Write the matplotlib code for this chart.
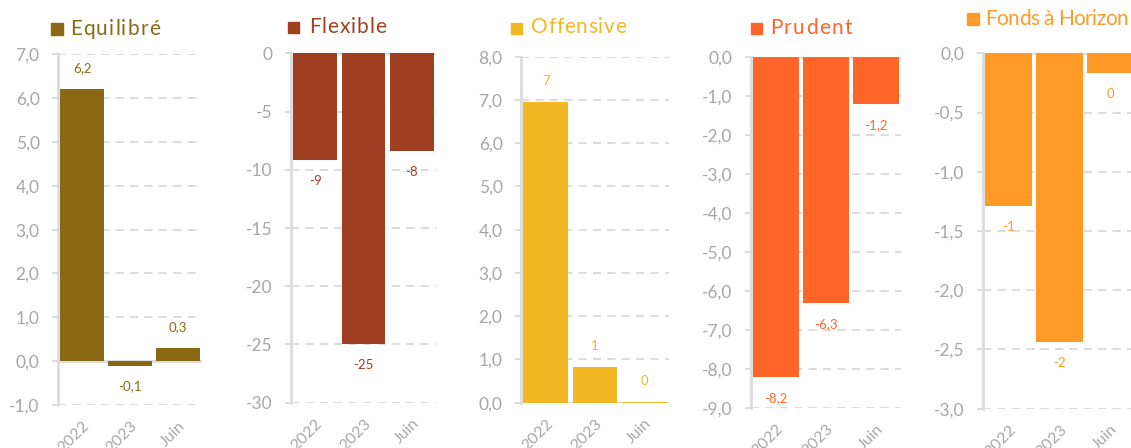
import matplotlib
matplotlib.use("Agg")
import matplotlib.pyplot as plt
from matplotlib.patches import Rectangle
from matplotlib.ticker import FixedLocator, FuncFormatter
from matplotlib.font_manager import findfont, FontProperties
from matplotlib.ft2font import FT2Font
import numpy as np

# Data
categories = ["2022", "2023", "Juin"]

equilibre = [6.2, -0.1, 0.3]
flexible = [-9.2, -25.0, -8.4]
offensive = [6.96, 0.82, 0.02]
prudent = [-8.2, -6.3, -1.2]
fonds_horizon = [-1.29, -2.44, -0.17]

names = ["Equilibré", "Flexible", "Offensive", "Prudent", "Fonds à Horizon"]
series = [equilibre, flexible, offensive, prudent, fonds_horizon]
colors = ["#8B6914", "#9E3F22", "#F2B722", "#FF6428", "#FF9A26"]
label_decimals = [1, 0, 0, 1, 0]
yticks = [
    np.arange(-1, 7.01, 1),
    np.arange(-30, 0.01, 5),
    np.arange(0, 8.01, 1),
    np.arange(-9, 0.01, 1),
    np.arange(-3, 0.01, 0.5),
]
tick_decimals = [1, 0, 1, 1, 1]

# Layout in pixels: (left, right, top, bottom)
W, H = 1131, 448
DPI = 100
boxes = [
    (58, 202, 54.3, 405.0),
    (291, 436, 53.3, 402.7),
    (521, 669, 56.7, 402.7),
    (751, 901, 57.3, 408.3),
    (983, 1136, 53.3, 408.7),
]
# Title: square left, square top, square bottom, text left, text right, baseline
titles = [
    (51, 23, 35, 70, 160, 35),
    (288, 22, 33, 309, 386, 33),
    (511, 23, 34, 531, 626, 33),
    (751, 23, 34, 770, 852, 34),
    (967, 13, 25, 985, 1128, 25),
]
TITLE_SIZE = 15

FONT = "Lato"
GRID = "#DCDCDC"
TICK = "#A6A6A6"

fig = plt.figure(figsize=(W / DPI, H / DPI), dpi=DPI)

ft = FT2Font(findfont(FontProperties(family=FONT)))


def advances(text, size_pt):
    ft.set_size(size_pt, DPI)
    return [ft.load_char(ord(c)).linearHoriAdvance / 65536 for c in text]


def tracked_text(text, x0, x1, y, size_pt, color):
    """Draw text between x0 and x1 (pixels), spreading the letters evenly."""
    adv = advances(text, size_pt)
    natural = sum(adv[:-1])
    last = text[-1]
    ft.set_size(size_pt, DPI)
    g = ft.load_char(ord(last))
    last_w = g.linearHoriAdvance / 65536
    track = (x1 - x0 - natural - last_w) / max(len(text) - 1, 1)
    x = x0
    for c, a in zip(text, adv):
        if c != " ":
            fig.text(x / W, (H - y) / H, c, fontfamily=FONT, fontsize=size_pt,
                     color=color, ha="left", va="baseline")
        x += a + track


def fmt_num(v, d):
    s = f"{v:.{d}f}".replace(".", ",")
    if s.startswith("-") and s.strip("-0,") == "":
        s = s[1:]
    return s


for i in range(5):
    l, r, t, b = boxes[i]
    ax = fig.add_axes([l / W, (H - b) / H, (r - l) / W, (b - t) / H])
    vals = series[i]
    x = np.arange(len(categories))
    ticks = yticks[i]
    lo, hi = ticks[0], ticks[-1]

    # dashed gridlines, solid zero line
    for tv in ticks:
        if abs(tv) < 1e-9:
            ax.axhline(tv, color=GRID, lw=2.0, zorder=1)
        else:
            ax.axhline(tv, color=GRID, lw=1.4, ls=(0, (4.2, 3.2)), zorder=1)

    ax.bar(x, vals, width=0.91, color=colors[i], zorder=2)

    ax.set_xlim(-0.5, 2.5)
    ax.set_ylim(lo, hi)
    ax.yaxis.set_major_locator(FixedLocator(ticks))
    d = tick_decimals[i]
    ax.yaxis.set_major_formatter(FuncFormatter(lambda v, p, d=d: fmt_num(v, d)))
    ax.set_xticks(x)
    ax.set_xticklabels(categories, rotation=45, ha="right", rotation_mode="anchor",
                       fontfamily=FONT, fontsize=11.5, color=TICK)
    for lab in ax.get_yticklabels():
        lab.set_fontfamily(FONT)
        lab.set_fontsize(12.5)
        lab.set_color(TICK)
    ax.tick_params(axis="y", length=4.3, width=1.4, color=GRID, pad=9)
    ax.tick_params(axis="x", length=0, pad=10)

    for s in ["top", "right", "bottom"]:
        ax.spines[s].set_visible(False)
    ax.spines["left"].set_color(GRID)
    ax.spines["left"].set_linewidth(2.0)
    ax.patch.set_alpha(0)

    # data labels
    for xi, v in zip(x, vals):
        off = 21 if v >= 0 else -21
        ax.annotate(fmt_num(v, label_decimals[i]), (xi, v), xytext=(0, off),
                    textcoords="offset pixels", ha="center", va="center",
                    fontfamily=FONT, fontsize=9.5, color=colors[i], zorder=3)

    # title with square marker
    sx, st, sb, tx0, tx1, tb = titles[i]
    size = sb - st
    fig.patches.append(Rectangle((sx / W, (H - sb) / H), size / W, size / H,
                                 transform=fig.transFigure, color=colors[i]))
    tracked_text(names[i], tx0, tx1, tb, TITLE_SIZE, colors[i])

fig.savefig("out.png", dpi=DPI)
